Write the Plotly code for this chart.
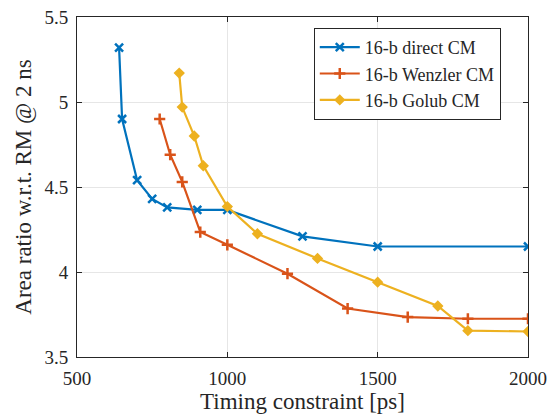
import plotly.graph_objects as go

direct_x = [640, 650, 700, 750, 800, 900, 1000, 1250, 1500, 2000]
direct_y = [5.32, 4.90, 4.54, 4.43, 4.38, 4.365, 4.365, 4.21, 4.15, 4.15]

wenzler_x = [775, 810, 850, 910, 1000, 1200, 1400, 1600, 1800, 2000]
wenzler_y = [4.90, 4.69, 4.53, 4.235, 4.16, 3.99, 3.785, 3.735, 3.725, 3.725]

golub_x = [840, 850, 890, 920, 1000, 1100, 1300, 1500, 1700, 1800, 2000]
golub_y = [5.17, 4.97, 4.80, 4.625, 4.385, 4.225, 4.08, 3.94, 3.80, 3.655, 3.65]

names = ["16-b direct CM", "16-b Wenzler CM", "16-b Golub CM"]
colors = ["#0072BD", "#D95319", "#EDB120"]
symbols = ["x-thin-open", "cross-thin-open", "diamond"]

font = "Liberation Serif"
fig = go.Figure()
for xs, ys, n, c, s in zip([direct_x, wenzler_x, golub_x], [direct_y, wenzler_y, golub_y], names, colors, symbols):
    msize = 6 if s == "diamond" else 8
    fig.add_trace(go.Scatter(
        x=xs, y=ys, name=n, mode="lines+markers",
        line=dict(color=c, width=2.2),
        marker=dict(symbol=s, size=msize, color=c, line=dict(color=c, width=2.5)),
    ))

axis_common = dict(
    showline=True, linecolor="#262626", linewidth=1, mirror="ticks",
    ticks="inside", ticklen=5, tickcolor="#262626", automargin=False,
    showgrid=True, gridcolor="#E6E6E6", gridwidth=1, zeroline=False,
    tickfont=dict(family=font, size=19, color="#262626"),
)
fig.update_xaxes(range=[500, 2000], tickvals=[500, 1000, 1500, 2000], ticklabelstandoff=4,
                 title=dict(text="Timing constraint [ps]", font=dict(family=font, size=23, color="#262626"), standoff=2),
                 **axis_common)
fig.update_yaxes(range=[3.5, 5.5], tickvals=[3.5, 4, 4.5, 5, 5.5], ticktext=["3.5", "4", "4.5", "5", "5.5"],
                 ticklabelstandoff=4,
                 title=dict(text="Area ratio w.r.t. RM @ 2 ns", font=dict(family=font, size=23, color="#262626"), standoff=6),
                 **axis_common)

fig.update_layout(
    width=554, height=417,
    margin=dict(l=77, r=26, t=17, b=60),
    plot_bgcolor="white", paper_bgcolor="white",
    legend=dict(x=0.525, y=0.968, xanchor="left", yanchor="top",
                bordercolor="#262626", borderwidth=1, bgcolor="white",
                font=dict(family=font, size=18, color="#262626"),
                tracegroupgap=0, itemwidth=40),
    showlegend=True,
)
fig.write_html("out.html")
